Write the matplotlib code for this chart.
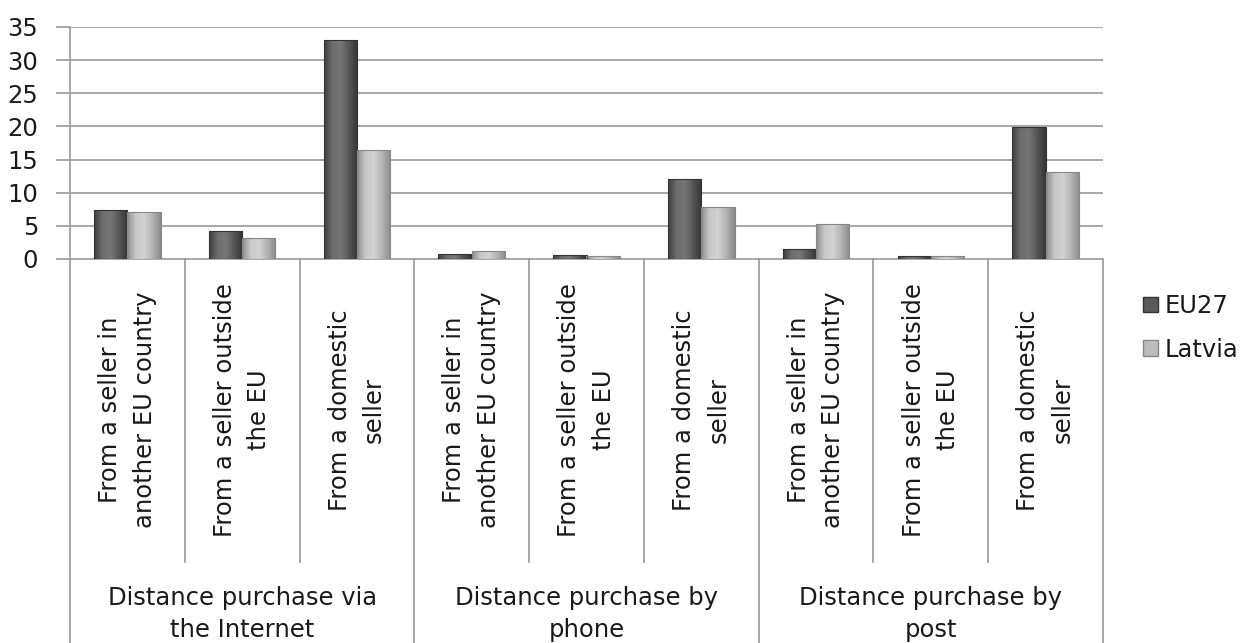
import numpy as np
import matplotlib
matplotlib.use("Agg")
from matplotlib import pyplot as plt
from matplotlib.colors import LinearSegmentedColormap
from matplotlib.patches import Patch

# data
sub_labels = ["From a seller in\nanother EU country", "From a seller outside\nthe EU", "From a domestic\nseller"] * 3
group_labels = ["Distance purchase via\nthe Internet", "Distance purchase by\nphone", "Distance purchase by\npost"]
eu27 = [7.4, 4.2, 33.1, 0.8, 0.6, 12.0, 1.5, 0.5, 19.9]
latvia = [7.1, 3.2, 16.5, 1.2, 0.5, 7.8, 5.3, 0.5, 13.2]
series_names = ["EU27", "Latvia"]
y_ticks = [0, 5, 10, 15, 20, 25, 30, 35]

W, H = 1243, 643
fig = plt.figure(figsize=(W / 100, H / 100), dpi=100)
plt.rcParams['font.family'] = ['DejaVu Sans']
fs = 17.5
grid_c = "#9a9a9a"
txt_c = "#1a1a1a"

left, right, top, base = 70, 1103, 27, 259
ax = fig.add_axes([left / W, 1 - base / H, (right - left) / W, (base - top) / H])
n = len(eu27)
x = np.arange(n)
bw = 0.29

dark_cm = LinearSegmentedColormap.from_list("d", ["#3e3e3e", "#6e6e6e", "#767676", "#555555", "#353535"])
light_cm = LinearSegmentedColormap.from_list("l", ["#8e8e8e", "#c8c8c8", "#d2d2d2", "#b4b4b4", "#8a8a8a"])
grad = np.linspace(0, 1, 64).reshape(1, -1)

for vals, off, cm, ec in [(eu27, -bw / 2, dark_cm, "#333333"), (latvia, bw / 2, light_cm, "#888888")]:
    bars = ax.bar(x + off, vals, bw, color="none", edgecolor=ec, linewidth=0.8, zorder=3)
    for b in bars:
        x0, y0 = b.get_x(), b.get_y()
        im = ax.imshow(grad, cmap=cm, aspect="auto", zorder=2.9,
                       extent=[x0, x0 + b.get_width(), y0, y0 + b.get_height()])
        im.set_clip_path(b)

ax.set_xlim(-0.5, n - 0.5)
ax.set_ylim(0, 35)
ax.set_yticks(y_ticks)
ax.set_xticks([])
ax.yaxis.grid(True, color=grid_c, linewidth=1.2, zorder=0)
ax.set_axisbelow(True)
for s in ["top", "right", "bottom"]:
    ax.spines[s].set_visible(False)
ax.spines["left"].set_color(grid_c)
ax.spines["left"].set_linewidth(1.2)
ax.tick_params(axis="y", length=10, width=1.2, color=grid_c, pad=13, labelsize=fs, labelcolor=txt_c)

# category table below the axis
ax2 = fig.add_axes([left / W, 0, (right - left) / W, (H - base) / H], sharex=ax)
ax2.set_ylim(0, 1)
ax2.axis("off")
sub_bottom = (H - 562) / (H - base)
ax2.plot([-0.5, n - 0.5], [1, 1], color=grid_c, lw=1.2)
for i in range(n + 1):
    xs = i - 0.5
    if i % 3 == 0:
        ax2.plot([xs, xs], [0, 1], color=grid_c, lw=1.2, clip_on=False)
    else:
        ax2.plot([xs, xs], [sub_bottom, 1], color=grid_c, lw=1.2, clip_on=False)
for i, lab in enumerate(sub_labels):
    ax2.text(i, (H - 410) / (H - base), lab, rotation=90, ha="center", va="center",
             multialignment="center", fontsize=fs, color=txt_c, linespacing=1.55)
for g, lab in enumerate(group_labels):
    ax2.text(g * 3 + 1, (H - 614) / (H - base), lab, ha="center", va="center",
             multialignment="center", fontsize=fs, color=txt_c, linespacing=1.4)

handles = [Patch(facecolor="#5a5a5a", edgecolor="#333333"), Patch(facecolor="#bcbcbc", edgecolor="#888888")]
fig.legend(handles, series_names, loc="center left", bbox_to_anchor=(1143 / W, 1 - 328 / H),
           frameon=False, fontsize=fs, handlelength=0.6, handleheight=0.6, handletextpad=0.3,
           labelspacing=0.8, borderpad=0, borderaxespad=0, labelcolor=txt_c)

fig.savefig("out.png", dpi=100)
